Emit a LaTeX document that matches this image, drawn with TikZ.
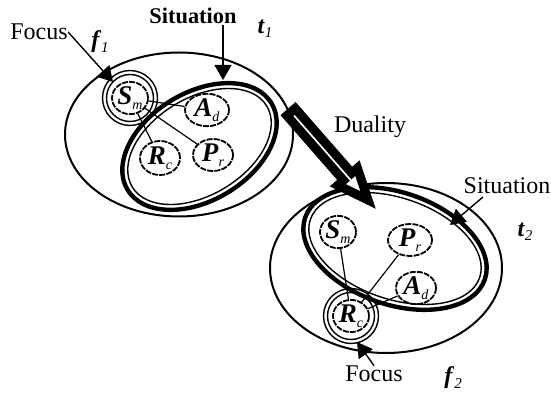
\documentclass[tikz,border=0pt]{standalone}
\usepackage{fontspec}
\setmainfont{Liberation Serif}
\usetikzlibrary{arrows.meta,shapes.geometric}
\newcommand{\lbl}[2]{\fontsize{13.5}{14}\selectfont\textbf{\textit{#1}}\raisebox{-0.4ex}{\fontsize{7}{8}\selectfont\textit{#2}}}
\newcommand{\bvar}[2]{\textbf{\textit{#1}}\raisebox{-0.4ex}{\fontsize{7.5}{8}\selectfont\textit{#2}}}
\begin{document}
\begin{tikzpicture}[x=0.5pt,y=0.5pt,
  rim/.style={line width=1pt},
  sitbold/.style={line width=2.2pt},
  sitfine/.style={line width=0.7pt},
  ring/.style={line width=0.7pt},
  cloud/.style={ellipse,draw,line width=0.9pt,dash pattern=on 3pt off 0.6pt,inner sep=0pt},
  link/.style={line width=0.6pt},
  pointer/.style={line width=0.7pt,-{Triangle[length=7.5pt,width=8.5pt]}},
  txt/.style={font=\fontsize{12}{14}\selectfont,inner sep=0pt}]
  \useasboundingbox (0,0) rectangle (551,396);
  \draw[rim] (179,261.5) ellipse [x radius=114, y radius=82];
  \draw[sitbold,shift={(199.5,249.5)},rotate=31] (0,0) ellipse [x radius=84, y radius=54];
  \draw[sitfine,shift={(199.5,249.5)},rotate=31] (0,0) ellipse [x radius=78.5, y radius=48.5];
  \node[cloud,minimum width=18pt,minimum height=16pt] (sm1) at (130,298) {\lbl{S}{m}};
  \node[cloud,minimum width=22pt,minimum height=15pt] (ad1) at (207,286) {\lbl{A}{d}};
  \node[cloud,minimum width=20pt,minimum height=17pt] (rc1) at (160,238) {\lbl{R}{c}};
  \node[cloud,minimum width=20pt,minimum height=16pt] (pr1) at (213,241) {\lbl{P}{r}};
  \draw[ring] (sm1.center) circle [radius=27.5];
  \draw[ring] (sm1.center) circle [radius=23.5];
  \draw[link] (sm1) -- (ad1);
  \draw[link] (sm1) -- (rc1);
  \draw[link] (sm1) -- (pr1);
  \draw[rim] (386,128) ellipse [x radius=116, y radius=85];
  \draw[sitbold,shift={(395,147.5)},rotate=-19] (0,0) ellipse [x radius=95, y radius=56];
  \draw[sitfine,shift={(395,147.5)},rotate=-19] (0,0) ellipse [x radius=89.5, y radius=50.5];
  \node[cloud,minimum width=18pt,minimum height=15pt] (sm2) at (338,164) {\lbl{S}{m}};
  \node[cloud,minimum width=22pt,minimum height=16pt] (pr2) at (410,156) {\lbl{P}{r}};
  \node[cloud,minimum width=20pt,minimum height=15pt] (ad2) at (416,108) {\lbl{A}{d}};
  \node[cloud,minimum width=18pt,minimum height=15pt] (rc2) at (351,80) {\lbl{R}{c}};
  \draw[ring] (rc2.center) circle [radius=27.5];
  \draw[ring] (rc2.center) circle [radius=23.5];
  \draw[link] (sm2) -- (rc2);
  \draw[link] (pr2) -- (rc2);
  \draw[link] (ad2) -- (rc2);
  \node[txt] (focusA) at (39,364) {Focus};
  \node[txt] (fA) at (100,354) {\bvar{f}{1}};
  \node[txt,font=\fontsize{11.2}{13}\selectfont\bfseries] (sitA) at (193,380) {Situation};
  \node[txt] (tA) at (265,367) {\bvar{t}{1}};
  \node[txt] (dual) at (370,269) {Duality};
  \node[txt] (sitB) at (507,210) {Situation};
  \node[txt] (tB) at (525,164) {\bvar{t}{2}};
  \node[txt] (focusB) at (374,22) {Focus};
  \node[txt] (fB) at (453,18) {\bvar{f}{2}};
  \coordinate (focusAtip) at (113,314);
  \coordinate (sitAfoot) at (223,371);
  \coordinate (sitAtip) at (223,316);
  \coordinate (sitBfoot) at (483,199);
  \coordinate (sitBtip) at (450,171);
  \coordinate (focusBtip) at (357,54);
  \draw[pointer] (focusA.east) -- (focusAtip);
  \draw[pointer] (sitAfoot) -- (sitAtip);
  \draw[pointer] (sitBfoot) -- (sitBtip);
  \draw[pointer] (focusB.north) -- (focusBtip);
  \coordinate (dualfrom) at (291,284);
  \begin{scope}[shift={(dualfrom)},rotate=-48.8]
    \draw[line width=4.5pt,line join=miter,fill=white] (0,5.5) -- (86,5.5) -- (86,13) -- (117,0) -- (86,-13) -- (86,-5.5) -- (0,-5.5) -- cycle;
  \end{scope}
\end{tikzpicture}
\end{document}
